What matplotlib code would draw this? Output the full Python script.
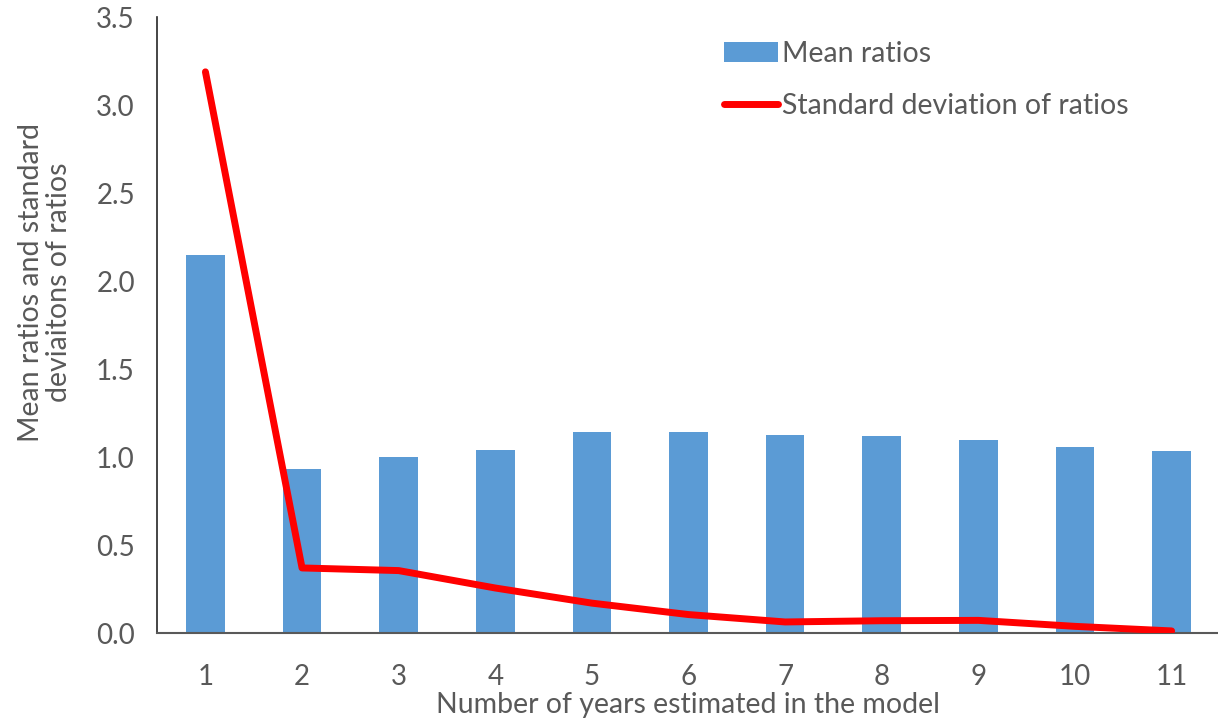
import numpy as np
import matplotlib.pyplot as plt

# values
years = ['1', '2', '3', '4', '5', '6', '7', '8', '9', '10', '11']
mean_ratios = [2.15, 0.933, 1.0, 1.04, 1.14, 1.14, 1.127, 1.119, 1.098, 1.06, 1.037]
std_ratios = [3.19, 0.37, 0.355, 0.256, 0.17, 0.105, 0.063, 0.07, 0.072, 0.038, 0.012]
y_ticks = [0.0, 0.5, 1.0, 1.5, 2.0, 2.5, 3.0, 3.5]

plt.rcParams['font.family'] = ['Lato', 'DejaVu Sans']
text_color = '#595959'

fig = plt.figure(figsize=(12.18, 7.21), dpi=100)
ax = fig.add_axes([0.129, 0.122, 0.871, 0.854])

x = np.arange(len(years))
bars = ax.bar(x, mean_ratios, width=0.4, color='#5B9BD5', label='Mean ratios', zorder=2)
line, = ax.plot(x, std_ratios, color='#FF0000', lw=5, solid_capstyle='round',
                solid_joinstyle='round', label='Standard deviation of ratios', zorder=3)

ax.set_xlim(-0.5, 10.48)
ax.set_ylim(0, 3.5)
ax.set_xticks(x)
ax.set_xticklabels(years)
ax.set_yticks(y_ticks)
ax.set_yticklabels([f'{v:.1f}' for v in y_ticks])
ax.tick_params(axis='both', length=0, labelsize=20, colors=text_color)
ax.tick_params(axis='x', pad=22)
ax.tick_params(axis='y', pad=16)

for side in ['top', 'right']:
    ax.spines[side].set_visible(False)
ax.spines['left'].set_color('#262626')
ax.spines['bottom'].set_color('#595959')
ax.spines['left'].set_linewidth(1.2)
ax.spines['bottom'].set_linewidth(1.5)

ax.set_xlabel('Number of years estimated in the model', fontsize=20.5, color=text_color, labelpad=2)
ax.set_ylabel('Mean ratios and standard\ndeviaitons of ratios', fontsize=20.5, color=text_color,
              linespacing=1.1)
ax.yaxis.set_label_coords(-0.08, 0.57)

leg = ax.legend([bars, line], ['Mean ratios', 'Standard deviation of ratios'],
                loc='upper left', bbox_to_anchor=(0.51, 1.003), frameon=False, fontsize=20.5,
                handlelength=1.9, handletextpad=0.15, labelspacing=0.92, labelcolor=text_color)

fig.savefig('out.png', dpi=100)
